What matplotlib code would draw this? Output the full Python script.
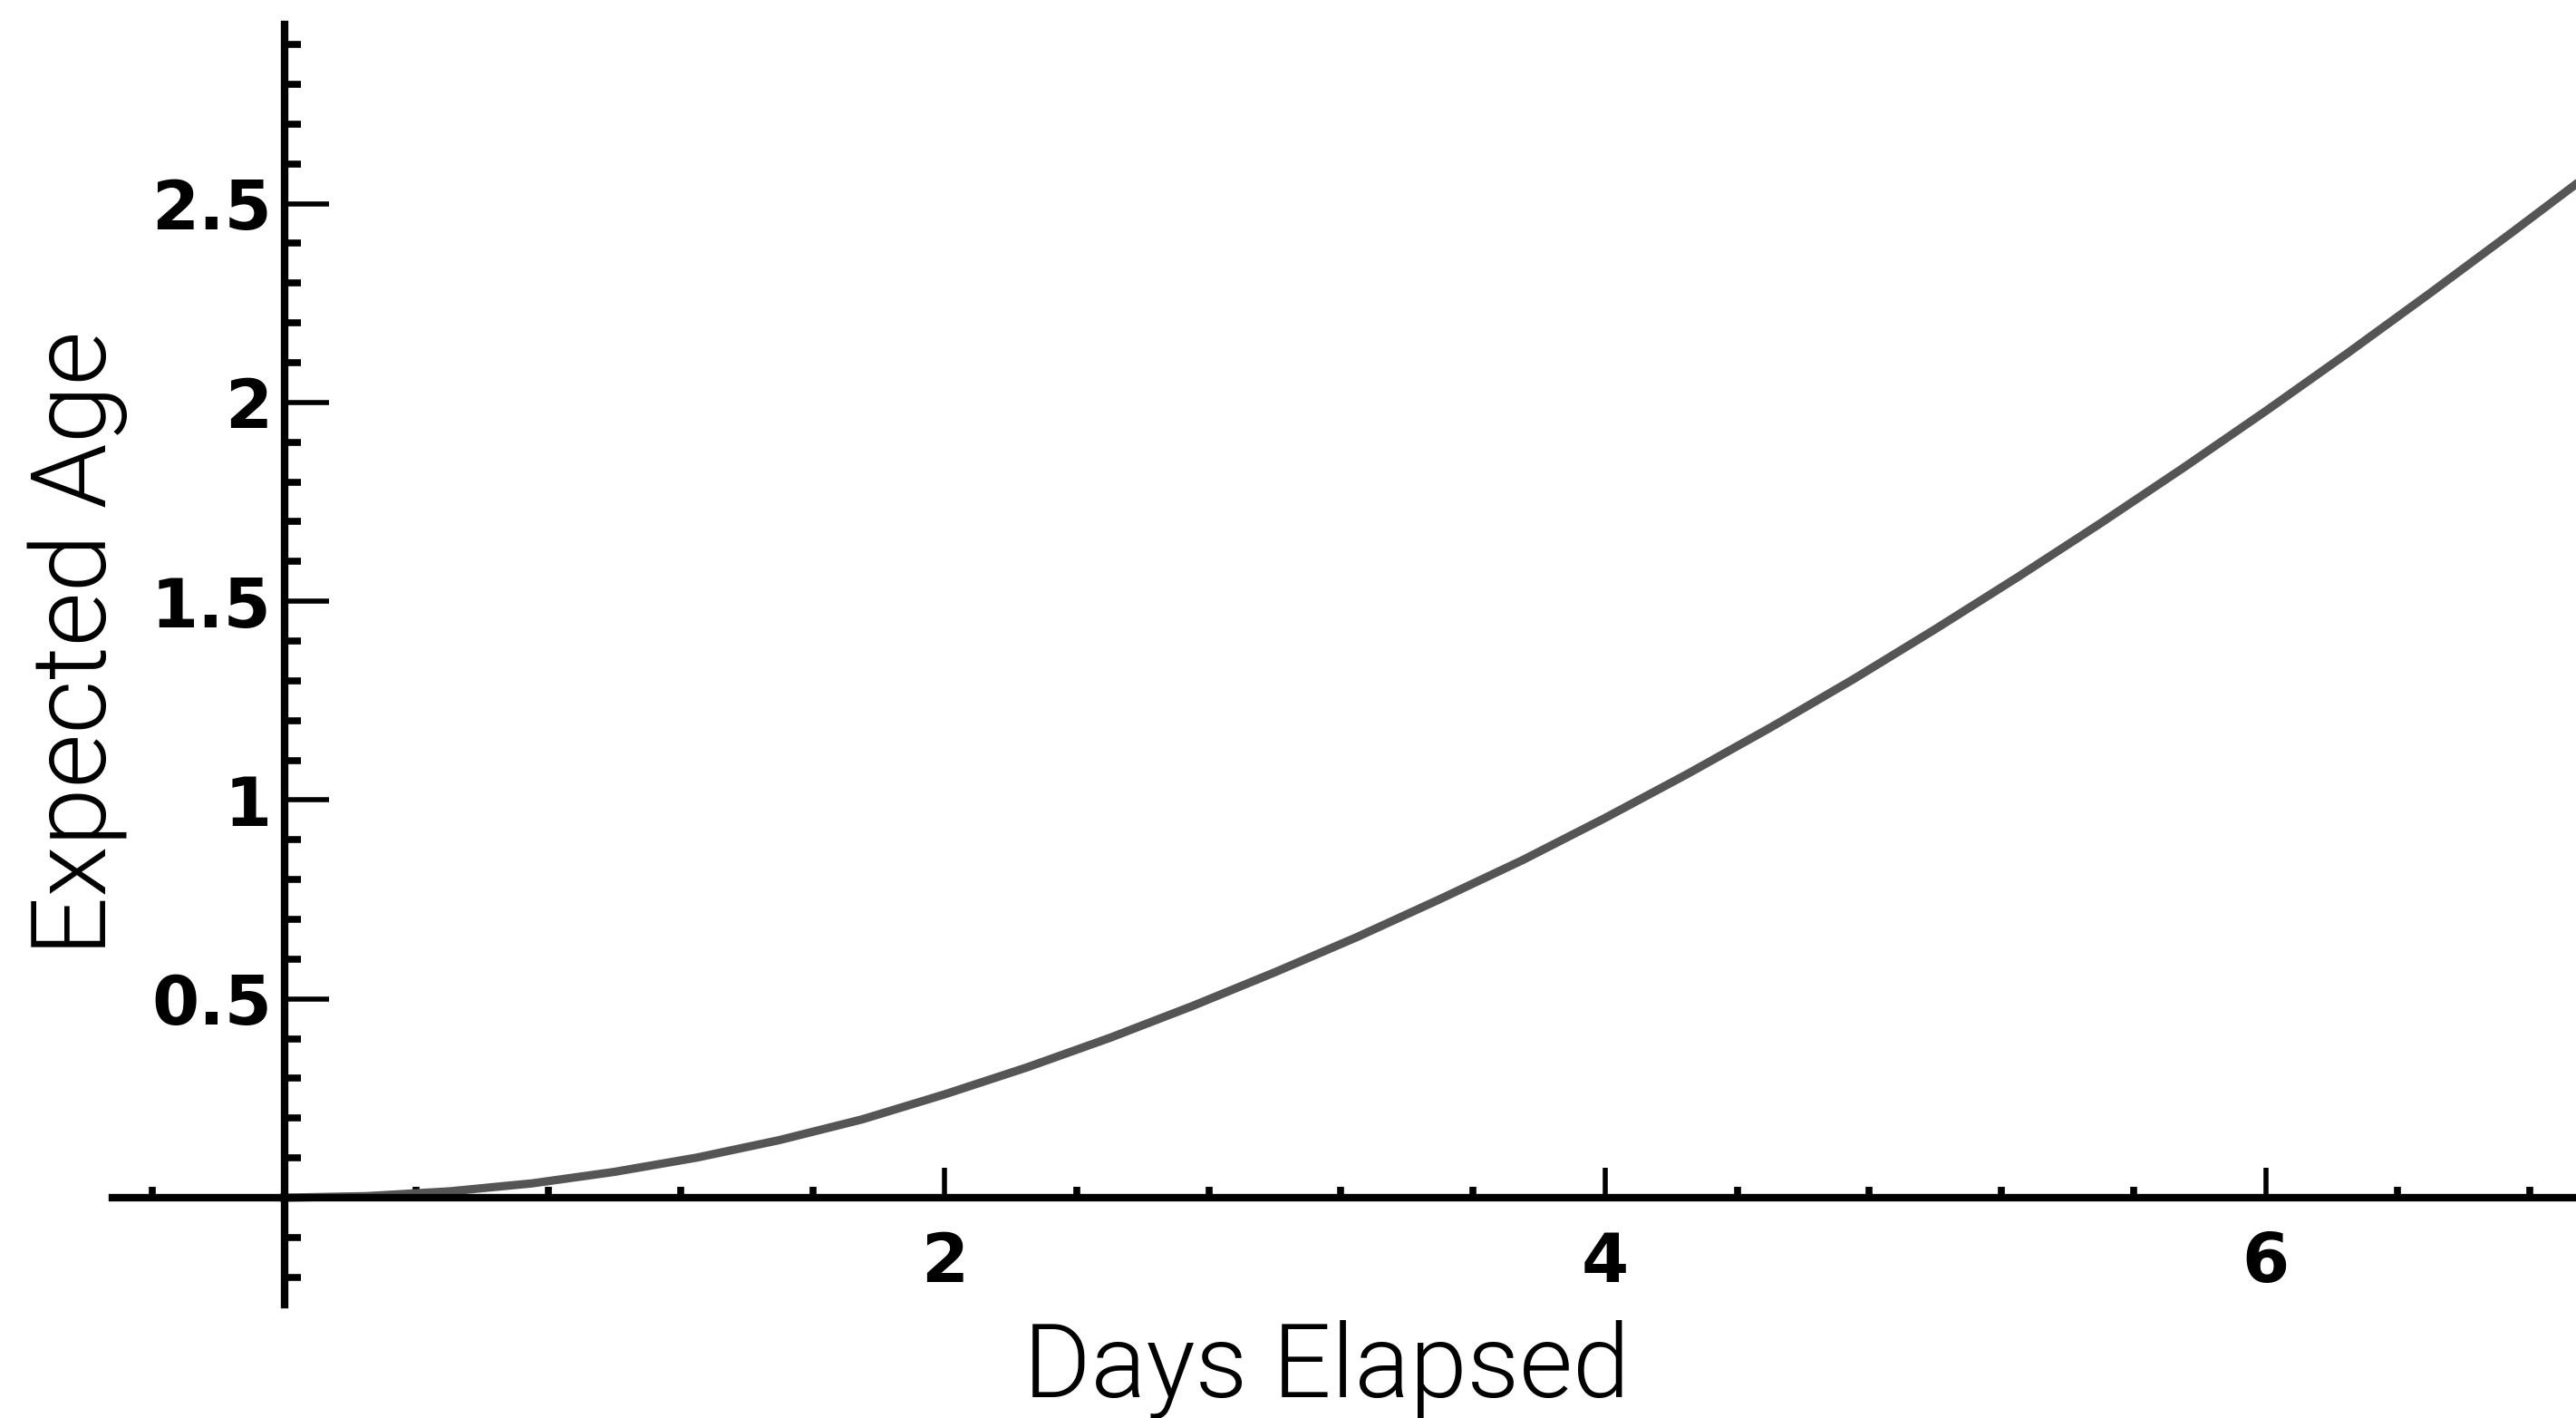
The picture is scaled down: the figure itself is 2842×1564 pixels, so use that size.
import matplotlib
matplotlib.use("Agg")
import matplotlib.pyplot as plt
from matplotlib.ticker import FixedLocator
import numpy as np

# values
days = [0.0, 0.25, 0.5, 0.75, 1.0, 1.25, 1.5, 1.75, 2.0, 2.25, 2.5, 2.75, 3.0, 3.25, 3.5,
        3.75, 4.0, 4.25, 4.5, 4.75, 5.0, 5.25, 5.5, 5.75, 6.0, 6.25, 6.5, 6.75, 6.94]
age = [0.0, 0.004, 0.016, 0.036, 0.065, 0.101, 0.145, 0.197, 0.26, 0.328, 0.402, 0.482, 0.567,
       0.656, 0.751, 0.849, 0.955, 1.066, 1.182, 1.303, 1.430, 1.561, 1.696, 1.835, 1.978,
       2.125, 2.276, 2.430, 2.549]

x_ticks = [2, 4, 6]
x_labels = ["2", "4", "6"]
y_ticks = [0.5, 1.0, 1.5, 2.0, 2.5]
y_labels = ["0.5", "1", "1.5", "2", "2.5"]

fig = plt.figure(figsize=(28.42, 15.64), dpi=100)
ax = fig.add_axes([0, 0, 1, 1])

ax.plot(days, age, color="#555555", linewidth=6.6, solid_joinstyle="round")

ax.set_xlim(-0.861, 6.94)
ax.set_ylim(-0.554, 3.012)

for s in ["top", "right"]:
    ax.spines[s].set_visible(False)
ax.spines["left"].set_position(("data", 0))
ax.spines["bottom"].set_position(("data", 0))
ax.spines["left"].set_bounds(-0.27, 2.95)
ax.spines["bottom"].set_bounds(-0.52, 6.94)
ax.spines["left"].set_linewidth(6)
ax.spines["bottom"].set_linewidth(6)

ax.xaxis.set_major_locator(FixedLocator(x_ticks))
ax.set_xticklabels(x_labels)
ax.xaxis.set_minor_locator(FixedLocator([v for v in np.arange(-0.4, 6.95, 0.4)
                                         if abs(v) > 0.01 and abs(v % 2) > 0.01 and abs(v % 2 - 2) > 0.01]))
ax.yaxis.set_major_locator(FixedLocator(y_ticks))
ax.set_yticklabels(y_labels)
ax.yaxis.set_minor_locator(FixedLocator([v for v in np.arange(-0.2, 2.95, 0.1)
                                         if abs(v) > 0.01 and abs((v * 2) - round(v * 2)) > 0.01]))

ax.tick_params(axis="x", which="major", direction="in", length=24, width=4, pad=26)
ax.tick_params(axis="x", which="minor", direction="in", length=9, width=5.5)
ax.tick_params(axis="y", which="major", direction="in", length=35, width=4, pad=10)
ax.tick_params(axis="y", which="minor", direction="in", length=13, width=5.5)

for lab in ax.get_xticklabels() + ax.get_yticklabels():
    lab.set_fontfamily("DejaVu Sans")
    lab.set_fontweight("bold")
    lab.set_fontsize(54)

fig.text(0.515, 0.0147, "Days Elapsed", ha="center", va="baseline",
         fontsize=82, fontfamily="Roboto", fontweight=300)
fig.text(0.0108, 0.5464, "Expected Age", ha="left", va="center", rotation=90,
         fontsize=83, fontfamily="Roboto", fontweight=300)

fig.savefig("out.png", dpi=100)
